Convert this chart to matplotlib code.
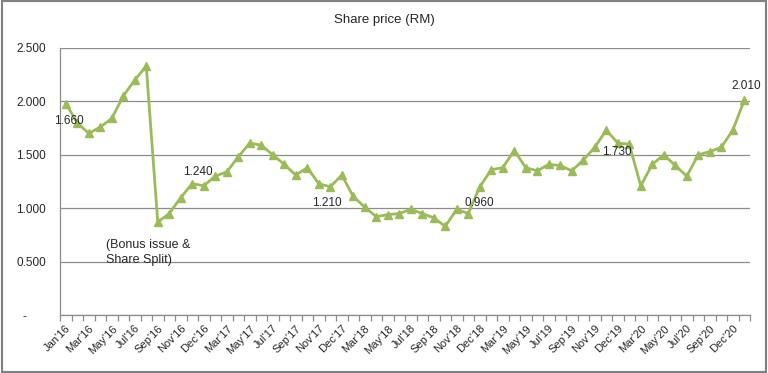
import matplotlib
matplotlib.use("Agg")
import matplotlib.pyplot as plt
from matplotlib.patches import Rectangle

plt.rcParams['font.family'] = ['Liberation Sans', 'DejaVu Sans']

# monthly-ish share price, one value per category (60 categories)
prices = [
    1.98, 1.80, 1.70, 1.76, 1.84, 2.05, 2.20, 2.33, 0.87, 0.95,
    1.10, 1.23, 1.21, 1.30, 1.34, 1.48, 1.61, 1.59, 1.50, 1.41,
    1.31, 1.38, 1.23, 1.20, 1.31, 1.11, 1.01, 0.92, 0.94, 0.95,
    0.99, 0.95, 0.91, 0.83, 0.99, 0.95, 1.20, 1.36, 1.38, 1.54,
    1.38, 1.35, 1.41, 1.40, 1.35, 1.45, 1.57, 1.73, 1.61, 1.60,
    1.21, 1.41, 1.50, 1.40, 1.30, 1.50, 1.53, 1.57, 1.73, 2.01,
]

# labels shown on every second category
tick_labels = [
    "Jan'16", "Mar'16", "May'16", "Jul'16", "Sep'16", "Nov'16", "Dec'16",
    "Mar'17", "May'17", "Jul'17", "Sep'17", "Nov'17", "Dec'17",
    "Mar'18", "May'18", "Jul'18", "Sep'18", "Nov'18", "Dec'18",
    "Mar'19", "May'19", "Jul'19", "Sep'19", "Nov'19", "Dec'19",
    "Mar'20", "May'20", "Jul'20", "Sep'20", "Dec'20",
]

point_labels = ["1.660", "1.240", "1.210", "0.960", "1.730", "2.010"]
label_spots = [(0.3, 1.82), (11.5, 1.34), (22.7, 1.05), (36.0, 1.05), (47.9, 1.53), (59.2, 2.14)]
note = "(Bonus issue &\nShare Split)"

green = "#9bbb59"
grid_gray = "#8c8c8c"
text_col = "#262626"

fig = plt.figure(figsize=(7.68, 3.73), dpi=100)
ax = fig.add_axes([60 / 768, 1 - 315 / 373, 690 / 768, 267 / 373])

n = len(prices)
xs = list(range(n))
ax.plot(xs, prices, color=green, lw=2.0, marker="^", markersize=5.5,
        markerfacecolor=green, markeredgecolor=green, zorder=3)

ax.set_xlim(-0.5, n - 0.5)
ax.set_ylim(0, 2.5)

yt = [0, 0.5, 1.0, 1.5, 2.0, 2.5]
ax.set_yticks(yt)
ax.set_yticklabels(["-      "] + [f"{v:.3f}" for v in yt[1:]], fontsize=8.5, color=text_col)
ax.tick_params(axis="y", length=0, pad=10)
ax.yaxis.grid(True, color=grid_gray, lw=0.9)
ax.set_axisbelow(True)

ax.set_xticks(list(range(0, n, 2)))
ax.set_xticklabels(tick_labels, rotation=45, ha="right", rotation_mode="anchor",
                   fontsize=8, color=text_col)
ax.set_xticks([i - 0.5 for i in range(n + 1)], minor=True)
ax.tick_params(axis="x", which="major", length=0, pad=6)
ax.tick_params(axis="x", which="minor", length=4, color=grid_gray, width=0.9)

for s in ["top", "right"]:
    ax.spines[s].set_visible(False)
for s in ["left", "bottom"]:
    ax.spines[s].set_color(grid_gray)
    ax.spines[s].set_linewidth(0.9)

for txt, (x, y) in zip(point_labels, label_spots):
    ax.text(x, y, txt, ha="center", va="center", fontsize=8.5, color=text_col, zorder=4)

ax.text(3.5, 0.71, note, ha="left", va="top", fontsize=9, color=text_col,
        linespacing=1.3)

fig.text(0.5, 1 - 20 / 373, "Share price (RM)", ha="center", va="center",
         fontsize=9.5, color=text_col)

fig.patches.append(Rectangle((0.002, 0.003), 0.996, 0.994, transform=fig.transFigure,
                             fill=False, edgecolor="#7f7f7f", lw=1.5))

fig.savefig("out.png", dpi=100)
